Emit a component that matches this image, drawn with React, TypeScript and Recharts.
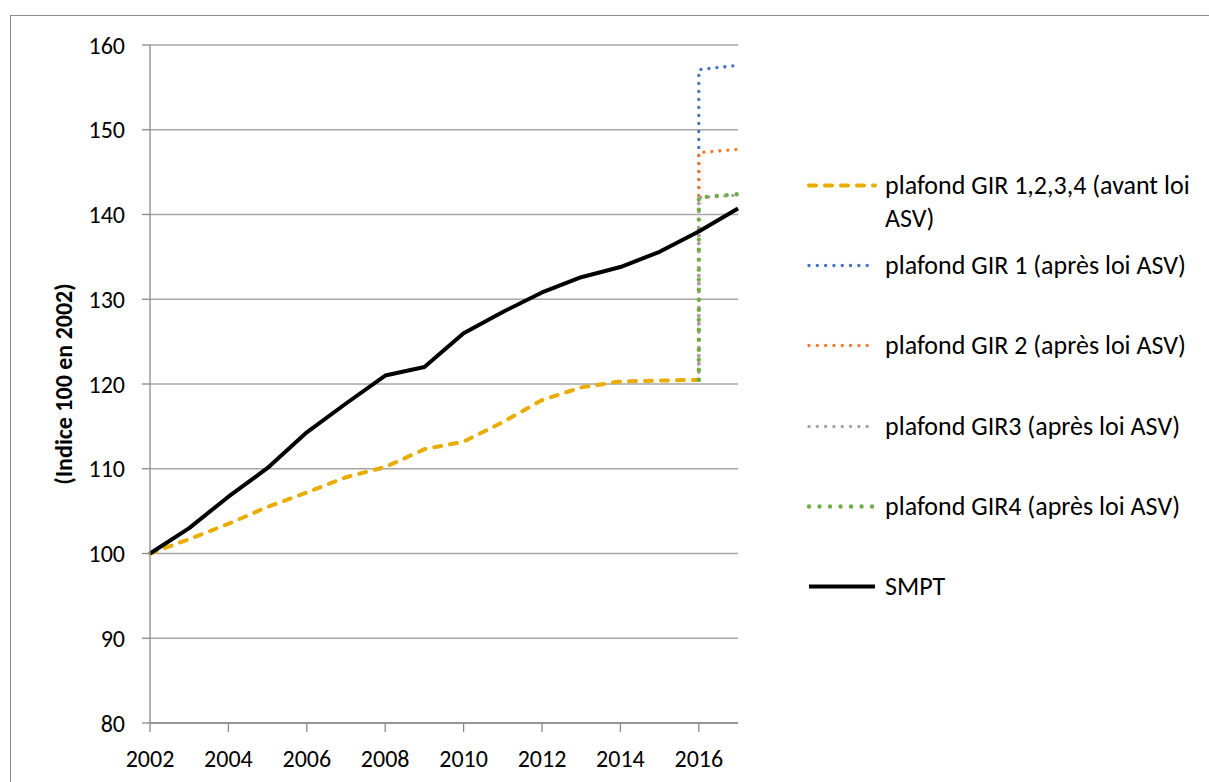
import { LineChart, Line, XAxis, YAxis, CartesianGrid } from 'recharts';

const years = [2002, 2003, 2004, 2005, 2006, 2007, 2008, 2009, 2010, 2011, 2012, 2013, 2014, 2015, 2016, 2017];
const smpt = [100, 103.0, 106.7, 110.1, 114.3, 117.7, 121.0, 122.0, 126.0, 128.5, 130.8, 132.6, 133.8, 135.6, 138.0, 140.7];
const avantAsv = [100, 101.7, 103.5, 105.5, 107.2, 109.0, 110.2, 112.3, 113.2, 115.5, 118.1, 119.6, 120.3, 120.4, 120.5, null];

// step at 2016: start on the old ceiling, jump, then run to 2017
const jumpYears = [2016, 2016, 2017];
const gir1 = [120.5, 157.1, 157.6];
const gir2 = [120.5, 147.3, 147.7];
const gir3 = [120.5, 142.0, 142.3];
const gir4 = [120.5, 142.0, 142.4];

const xTicks = [2002, 2004, 2006, 2008, 2010, 2012, 2014, 2016];
const yTicks = [80, 90, 100, 110, 120, 130, 140, 150, 160];

const mainData = years.map((year, i) => ({ year, smpt: smpt[i], avant: avantAsv[i] }));
const jump = (vals: number[]) => jumpYears.map((year, i) => ({ year, v: vals[i] }));

const FONT = 'Carlito, Lato, sans-serif';

const legendItems = [
  { label: ['plafond GIR 1,2,3,4 (avant loi', 'ASV)'], color: '#E8AD00', width: 4, dash: '7 9' },
  { label: ['plafond GIR 1 (après loi ASV)'], color: '#4472C4', width: 3.4, dash: '0.01 8.3' },
  { label: ['plafond GIR 2 (après loi ASV)'], color: '#ED7D31', width: 3.4, dash: '0.01 8.3' },
  { label: ['plafond GIR3 (après loi ASV)'], color: '#A5A5A5', width: 3.4, dash: '0.01 8.3' },
  { label: ['plafond GIR4 (après loi ASV)'], color: '#70AD47', width: 4.4, dash: '0.01 10.5' },
  { label: ['SMPT'], color: '#000000', width: 4, dash: undefined as string | undefined },
];

function ChartLegend() {
  return (
    <div style={{ position: 'absolute', left: 800, top: 168.5, fontFamily: FONT, fontSize: 26, color: '#000' }}>
      {legendItems.map((it, i) => (
        <div key={i} style={{ display: 'flex', alignItems: 'flex-start', height: 80.4 }}>
          <svg width={85} height={33} style={{ flex: 'none' }}>
            <line x1={9} x2={75} y1={16.5} y2={16.5} stroke={it.color} strokeWidth={it.width}
              strokeDasharray={it.dash} strokeLinecap={it.dash ? 'round' : 'butt'} />
          </svg>
          <div style={{ lineHeight: '33px', whiteSpace: 'nowrap' }}>
            {it.label.map((l, j) => <div key={j}>{l}</div>)}
          </div>
        </div>
      ))}
    </div>
  );
}

export default function App() {
  return (
    <div style={{ position: 'absolute', left: 0, top: 0, width: 1209, height: 782, overflow: 'hidden', background: '#fff', fontFamily: FONT }}>
      <div style={{ position: 'absolute', left: 10, top: 15, width: 1210, height: 800, border: '1.5px solid #8a8a8a' }} />
      <LineChart width={1209} height={782} margin={{ top: 45, right: 471, bottom: 9, left: 50 }}>
        <CartesianGrid horizontal vertical={false} stroke="#a6a6a6" strokeWidth={1.3} />
        <XAxis type="number" dataKey="year" domain={[2002, 2017]} ticks={xTicks} allowDuplicatedCategory={false}
          height={50} tickSize={9} tickMargin={18} stroke="#8a8a8a" strokeWidth={1.3}
          tick={{ fontSize: 24, fill: '#000', fontFamily: FONT }} />
        <YAxis type="number" domain={[80, 160]} ticks={yTicks} width={100} tickSize={8} tickMargin={17}
          stroke="#8a8a8a" strokeWidth={1.3} tick={{ fontSize: 24, fill: '#000', fontFamily: FONT }}
          label={{ value: '(Indice 100 en 2002)', angle: -90, position: 'insideLeft', offset: 13,
            style: { textAnchor: 'middle', fontSize: 24, fontWeight: 'bold', fill: '#000', fontFamily: FONT } }} />
        <Line data={mainData} dataKey="avant" stroke="#E8AD00" strokeWidth={4} strokeDasharray="7 9" strokeLinecap="round"
          dot={false} activeDot={false} isAnimationActive={false} connectNulls={false} />
        <Line data={jump(gir1)} dataKey="v" stroke="#4472C4" strokeWidth={3.4} strokeDasharray="0.01 8" strokeLinecap="round"
          dot={false} activeDot={false} isAnimationActive={false} />
        <Line data={jump(gir2)} dataKey="v" stroke="#ED7D31" strokeWidth={3.4} strokeDasharray="0.01 8" strokeLinecap="round"
          dot={false} activeDot={false} isAnimationActive={false} />
        <Line data={jump(gir3)} dataKey="v" stroke="#A5A5A5" strokeWidth={3.4} strokeDasharray="0.01 8" strokeLinecap="round"
          dot={false} activeDot={false} isAnimationActive={false} />
        <Line data={jump(gir4)} dataKey="v" stroke="#70AD47" strokeWidth={4.4} strokeDasharray="0.01 10" strokeLinecap="round"
          dot={false} activeDot={false} isAnimationActive={false} />
        <Line data={mainData} dataKey="smpt" stroke="#000" strokeWidth={4} strokeLinejoin="round"
          dot={false} activeDot={false} isAnimationActive={false} />
      </LineChart>
      <ChartLegend />
    </div>
  );
}
